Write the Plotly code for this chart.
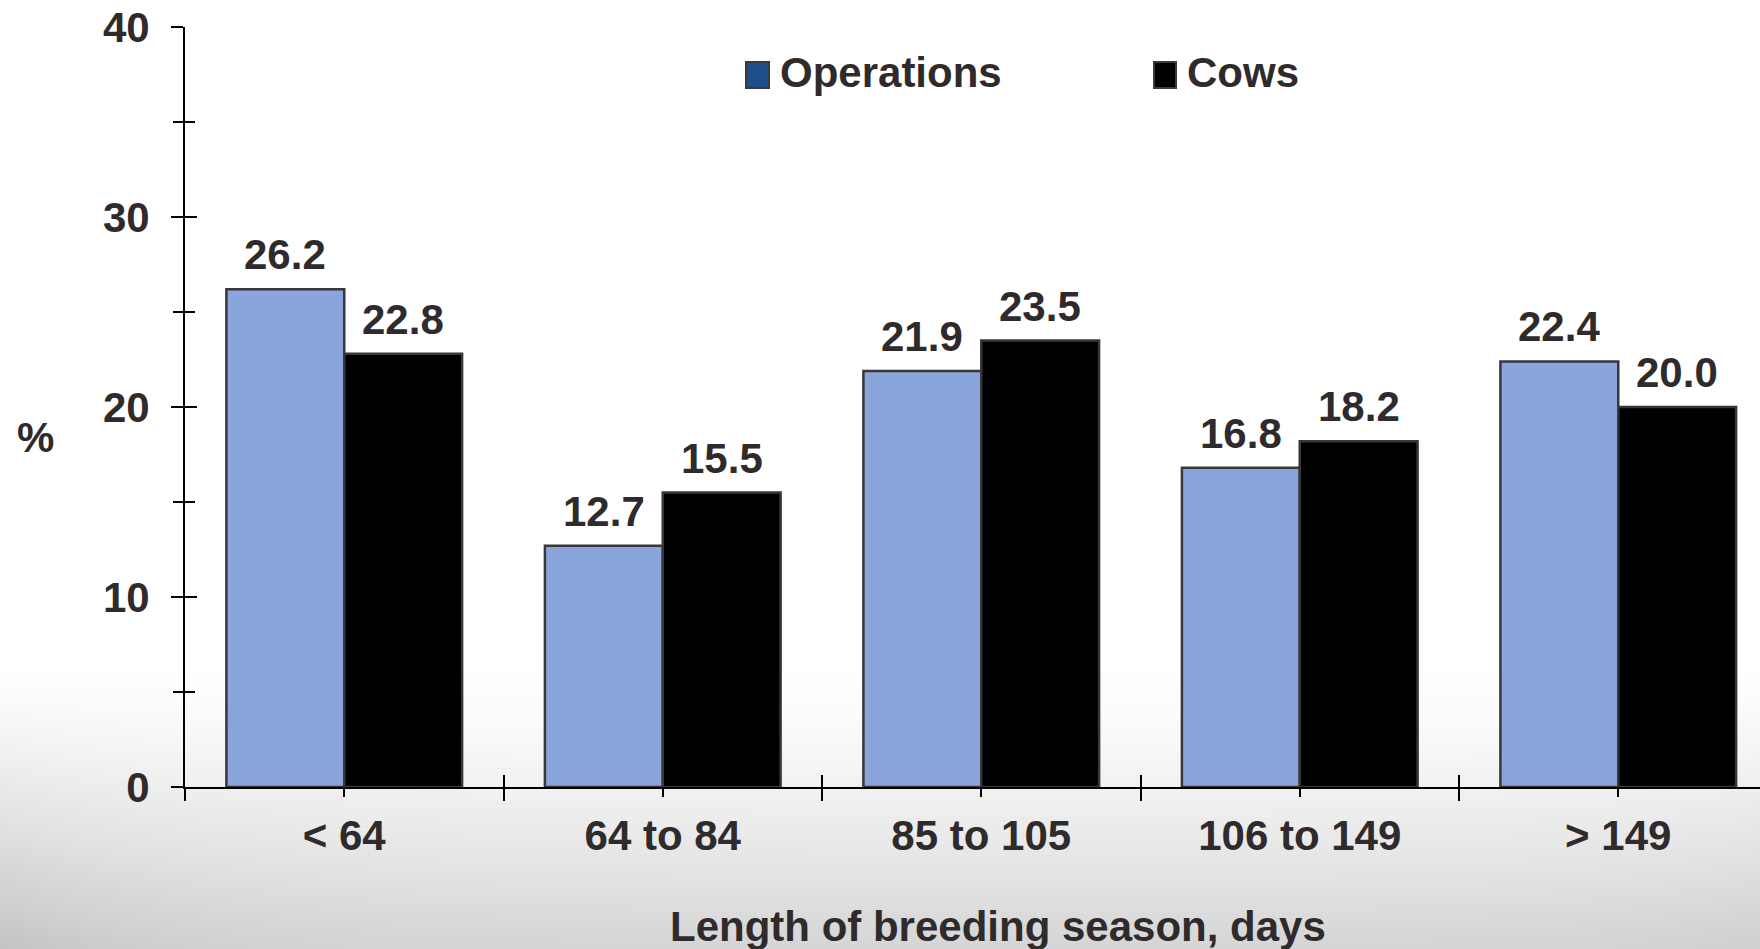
import base64
import struct
import zlib

import numpy as np
import plotly.graph_objects as go

# ---- data -------------------------------------------------------------
categories = ["< 64", "64 to 84", "85 to 105", "106 to 149", "> 149"]
operations = [26.2, 12.7, 21.9, 16.8, 22.4]
cows = [22.8, 15.5, 23.5, 18.2, 20.0]
y_ticks = [0, 10, 20, 30, 40]

# ---- layout constants ---------------------------------------------------
W, H = 1760, 949
L, R, T, B = 185, 0, 27, 162
PLOT_W = W - L - R
PLOT_H = H - T - B
CAT_PX = 318.5                      # pixels per category slot
X_RANGE = [-0.5, -0.5 + PLOT_W / CAT_PX]
BARGAP = 0.26
BAR_OFF = (1 - BARGAP) / 4          # centre offset of each bar in a pair

INK = "#2f2b2c"
FONT = "Liberation Sans, Arial, sans-serif"
OPS_FILL = "#8aa5dc"
OUTLINE = "#3a3637"


def px_x(p):
    return (p - L) / PLOT_W


def px_y(p):
    return (H - B - p) / PLOT_H


# ---- soft grey background (darker towards the bottom corners) -----------
def background_png(w=220, h=119):
    ys = (np.arange(h) + 0.5) / h * H
    xs = (np.arange(w) + 0.5) / w * W
    t = np.clip((ys - 680) / 269.0, 0, 1)[:, None]
    base = 41 * t ** 1.3
    edge = (18 * np.exp(-xs / 180.0) + 7 * np.exp(-(W - xs) / 150.0))[None, :]
    g = 255 - base - edge * t ** 0.8
    g = np.clip(g, 0, 255).astype(np.uint8)
    rgb = np.repeat(g[:, :, None], 3, axis=2)
    raw = b"".join(b"\x00" + rgb[r].tobytes() for r in range(h))

    def chunk(tag, data):
        c = struct.pack(">I", len(data)) + tag + data
        return c + struct.pack(">I", zlib.crc32(tag + data) & 0xFFFFFFFF)

    png = b"\x89PNG\r\n\x1a\n"
    png += chunk(b"IHDR", struct.pack(">IIBBBBB", w, h, 8, 2, 0, 0, 0))
    png += chunk(b"IDAT", zlib.compress(raw, 9))
    png += chunk(b"IEND", b"")
    return "data:image/png;base64," + base64.b64encode(png).decode()


x_idx = list(range(len(categories)))

fig = go.Figure()
fig.add_trace(go.Bar(
    name="Operations", x=x_idx, y=operations,
    marker=dict(color=OPS_FILL, line=dict(color=OUTLINE, width=2.5)),
    showlegend=False, hoverinfo="skip",
))
fig.add_trace(go.Bar(
    name="Cows", x=x_idx, y=cows,
    marker=dict(color="#000000", line=dict(color=OUTLINE, width=2.5)),
    showlegend=False, hoverinfo="skip",
))
# empty trace that carries the inward half of the cross-shaped ticks
fig.add_trace(go.Scatter(
    x=[None], y=[None], xaxis="x2", yaxis="y2",
    mode="markers", showlegend=False, hoverinfo="skip",
))

annotations = []
for series, sign in ((operations, -1), (cows, 1)):
    for i, v in enumerate(series):
        annotations.append(dict(
            x=i + sign * BAR_OFF, y=v, xref="x", yref="y",
            text=f"{v:.1f}", showarrow=False,
            xanchor="center", yanchor="bottom", yshift=9,
            font=dict(family=FONT, size=42, color=INK, weight="bold"),
        ))

# axis titles
annotations.append(dict(
    x=px_x(35), y=px_y(438), xref="paper", yref="paper",
    text="%", showarrow=False, xanchor="center", yanchor="middle",
    font=dict(family=FONT, size=42, color=INK, weight="bold"),
))
annotations.append(dict(
    x=px_x(998), y=px_y(926), xref="paper", yref="paper",
    text="Length of breeding season, days", showarrow=False,
    xanchor="center", yanchor="middle",
    font=dict(family=FONT, size=42, color=INK, weight="bold"),
))

# legend
legend_items = [("Operations", "#1f4e8c", 746, 769), ("Cows", "#000000", 1154, 1176)]
shapes = []
for label, fill, x0, x1 in legend_items:
    shapes.append(dict(
        type="rect", xref="paper", yref="paper",
        x0=px_x(x0), x1=px_x(x1), y0=px_y(88), y1=px_y(62),
        fillcolor=fill, line=dict(color="#3a3a3a", width=2),
    ))
    annotations.append(dict(
        x=px_x(x1 + 9), y=px_y(73), xref="paper", yref="paper",
        text=label, showarrow=False, xanchor="left", yanchor="middle",
        font=dict(family=FONT, size=42, color=INK, weight="bold"),
    ))

tick_font = dict(family=FONT, size=42, color=INK, weight="bold")

fig.update_layout(
    width=W, height=H,
    margin=dict(l=L, r=R, t=T, b=B, pad=0),
    paper_bgcolor="#ffffff",
    plot_bgcolor="rgba(0,0,0,0)",
    barmode="group", bargap=BARGAP, bargroupgap=0,
    showlegend=False,
    xaxis=dict(
        range=X_RANGE, tickmode="array", tickvals=x_idx, ticktext=categories,
        ticks="outside", ticklen=8, tickwidth=2, tickcolor="#000",
        minor=dict(tick0=0.5, dtick=1, ticks="outside", ticklen=12,
                   tickwidth=2, tickcolor="#000"),
        showline=True, linecolor="#000", linewidth=2,
        showgrid=False, zeroline=False,
        tickfont=tick_font, ticklabelstandoff=3,
    ),
    yaxis=dict(
        range=[0, 40], tickmode="array", tickvals=y_ticks,
        ticks="outside", ticklen=12, tickwidth=2, tickcolor="#000",
        minor=dict(dtick=5, ticks="outside", ticklen=10,
                   tickwidth=2, tickcolor="#000"),
        showline=True, linecolor="#000", linewidth=2,
        showgrid=False, zeroline=False,
        tickfont=tick_font, ticklabelstandoff=13,
    ),
    xaxis2=dict(
        overlaying="x", anchor="y2", range=X_RANGE,
        tick0=-0.5, dtick=1, ticks="inside", ticklen=12, tickwidth=2,
        tickcolor="#000", showticklabels=False, showline=False,
        showgrid=False, zeroline=False,
    ),
    yaxis2=dict(
        overlaying="y", anchor="x2", side="left", range=[0, 40],
        dtick=10, ticks="inside", ticklen=12, tickwidth=2, tickcolor="#000",
        minor=dict(dtick=5, ticks="inside", ticklen=10,
                   tickwidth=2, tickcolor="#000"),
        showticklabels=False, showline=False, showgrid=False, zeroline=False,
    ),
    images=[dict(
        source=background_png(), xref="paper", yref="paper",
        x=px_x(0), y=px_y(0), sizex=W / PLOT_W, sizey=H / PLOT_H,
        xanchor="left", yanchor="top", sizing="stretch", layer="below",
    )],
    shapes=shapes,
    annotations=annotations,
)

fig.write_html("out.html")
